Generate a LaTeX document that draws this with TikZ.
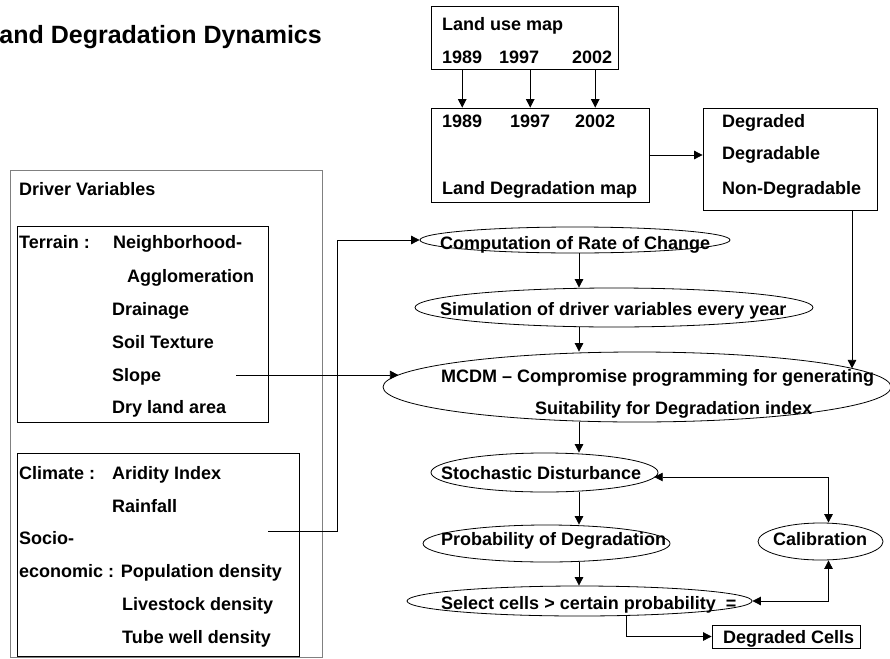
\documentclass[tikz,border=0pt]{standalone}
\usepackage{fontspec}
\setmainfont{Liberation Sans}
\usetikzlibrary{arrows.meta,shapes.geometric,calc}
\begin{document}
\begin{tikzpicture}[x=1pt,y=-1pt,
  every node/.style={font=\fontsize{18}{21}\selectfont\bfseries},
  txt/.style={inner sep=0pt, anchor=base west},
  box/.style={draw, line width=0.8pt, inner sep=0pt},
  ell/.style={draw, ellipse, line width=0.8pt, inner sep=0pt},
  conn/.style={line width=0.8pt},
  >={Triangle[length=8.5pt,width=8.5pt]}]
\useasboundingbox (0,0) rectangle (890,658);

% title
\node[inner sep=0pt, anchor=base east, font=\fontsize{25}{28}\selectfont\bfseries] (title) at (322,44) {and Degradation Dynamics};

% boxes
\node[box, minimum width=187, minimum height=63] (lu) at (524.5,37.5) {};
\node[box, minimum width=218, minimum height=94] (ldm) at (540,155) {};
\node[box, minimum width=174, minimum height=102] (cls) at (790,159) {};
\node[box, draw=gray, minimum width=312, minimum height=487] (drv) at (166,413.5) {};
\node[box, minimum width=251, minimum height=196] (ter) at (142.5,324) {};
\node[box, minimum width=282, minimum height=203] (cli) at (158,554.5) {};

% land use map texts
\node[txt] (lut) at (442,31) {Land use map};
\node[txt] (a1) at (442,64) {1989};
\node[txt] (a2) at (499,64) {1997};
\node[txt] (a3) at (572,64) {2002};
\node[txt] (y1) at (442,128) {1989};
\node[txt] (y2) at (510,128) {1997};
\node[txt] (y3) at (575,128) {2002};
\node[txt] (ldmt) at (442,194) {Land Degradation map};
\node[txt] (c1) at (722,128) {Degraded};
\node[txt] (c2) at (722,159.5) {Degradable};
\node[txt] (c3) at (722,194) {Non-Degradable};

% driver variables
\node[txt] (dv) at (19,195) {Driver Variables};
\node[txt] (t0) at (19,248) {Terrain :};
\node[txt] (t1) at (113,248) {Neighborhood-};
\node[txt] (t2) at (127,282) {Agglomeration};
\node[txt] (t3) at (112,315) {Drainage};
\node[txt] (t4) at (112,348) {Soil Texture};
\node[txt] (t5) at (112,381) {Slope};
\node[txt] (t6) at (112,413) {Dry land area};
\node[txt] (k0) at (19,479) {Climate :};
\node[txt] (k1) at (112,479) {Aridity Index};
\node[txt] (k2) at (112,512) {Rainfall};
\node[txt] (k3) at (19,544) {Socio-};
\node[txt] (k4) at (19,577) {economic : Population density};
\node[txt] (k5) at (122,610) {Livestock density};
\node[txt] (k6) at (122,643) {Tube well density};

% ellipses
\node[ell, minimum width=310, minimum height=26] (comp) at (575,240) {};
\node[ell, minimum width=398, minimum height=39] (sim) at (614,307.5) {};
\node[ell, minimum width=508, minimum height=70] (mcdm) at (637,387) {};
\node[ell, minimum width=227, minimum height=39] (stoch) at (544.5,472.5) {};
\node[ell, minimum width=247, minimum height=37] (prob) at (546.5,543.5) {};
\node[ell, minimum width=125, minimum height=37] (calib) at (820.5,541.5) {};
\node[ell, minimum width=345, minimum height=30] (sel) at (579.5,601) {};
\node[box, minimum width=148, minimum height=23] (dc) at (786,636.5) {};

\node[txt] (compt) at (440,249) {Computation of Rate of Change};
\node[txt] (simt) at (440,315) {Simulation of driver variables every year};
\node[txt] (mt1) at (441,382) {MCDM -- Compromise programming for generating};
\node[txt] (mt2) at (535,414) {Suitability for Degradation index};
\node[txt] (stocht) at (441,479) {Stochastic Disturbance};
\node[txt] (probt) at (441,545) {Probability of Degradation};
\node[txt] (calibt) at (773,545) {Calibration};
\node[txt] (selt) at (441,609) {Select cells > certain probability\ \ =};
\node[txt] (dct) at (723,643) {Degraded Cells};

% helper coordinates
\coordinate (col) at (579,0);
\coordinate (slsrc) at (236,375);
\coordinate (clsrc) at (268,531);
\coordinate (dcx) at (626,0);
\coordinate (mcdmin) at ($(mcdm.center)+(215,-18.6)$);
\coordinate (mcdmleft) at ($(mcdm.center)+(-238.6,-12)$);
\coordinate (stochright) at ($(stoch.center)+(109.7,4.5)$);

% connectors
\draw[conn,->] (lu.south -| y1) -- (ldm.north -| y1);
\draw[conn,->] (lu.south -| y2) -- (ldm.north -| y2);
\draw[conn,->] (lu.south -| y3) -- (ldm.north -| y3);
\draw[conn,->] (ldm.east) -- (ldm.east -| cls.west);
\draw[conn,->] (mcdmin |- cls.south) -- (mcdmin);
\draw[conn,->] (clsrc) -- ++(69,0) |- (comp.west);
\draw[conn,->] (slsrc) -- (mcdmleft);
\draw[conn,->] (comp.south -| col) -- (sim.north -| col);
\draw[conn,->] (sim.south -| col) -- (mcdm.north -| col);
\draw[conn,->] (mcdm.south -| col) -- (stoch.north -| col);
\draw[conn,->] (stoch.south -| col) -- (prob.north -| col);
\draw[conn,->] (prob.south -| col) -- (sel.north -| col);
\draw[conn,<->] (stochright) -| ([xshift=8pt]calib.north);
\draw[conn,<->] (sel.east) -| ([xshift=8pt]calib.south);
\draw[conn,->] (sel.south -| dcx) |- (dc.west);
\end{tikzpicture}
\end{document}
